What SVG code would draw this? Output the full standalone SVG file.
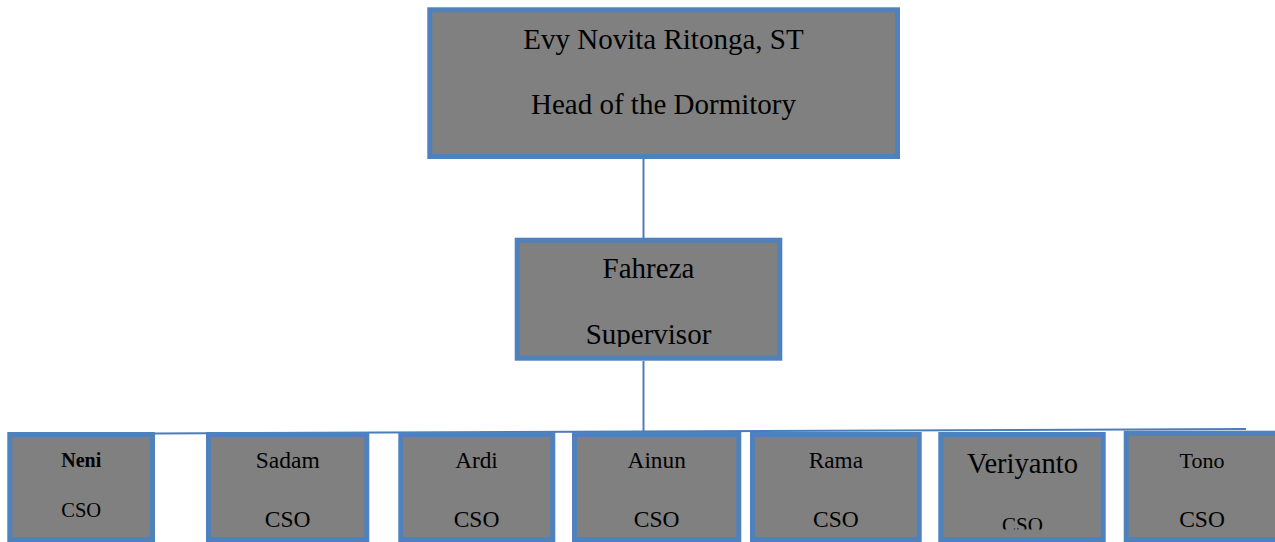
<svg xmlns="http://www.w3.org/2000/svg" width="1275" height="542" viewBox="0 0 1275 542">
<style>
.box{fill:#808080;stroke:#4f81bd;stroke-width:5}
.t{font-family:"Liberation Serif","Times New Roman",serif;fill:#000;text-anchor:middle}
.conn{stroke:#4a7ebb;stroke-width:2;fill:none}
</style>
<defs>
<clipPath id="clipSup"><rect x="515" y="238" width="268" height="109"/></clipPath>
<clipPath id="clipVer"><rect x="938" y="432" width="168" height="97.5"/></clipPath>
</defs>
<rect width="1275" height="542" fill="#fff"/>
<g id="connectors">
<line class="conn" x1="643.5" y1="159" x2="643.5" y2="238"/>
<line class="conn" x1="643.5" y1="361" x2="643.5" y2="432"/>
<line class="conn" x1="155" y1="433.5" x2="1246" y2="429"/>
</g>
<g id="head">
<rect class="box" x="429.8" y="9.8" width="467.7" height="146.7"/>
<text class="t" x="663.5" y="49" font-size="29">Evy Novita Ritonga, ST</text>
<text class="t" x="663.5" y="114" font-size="29">Head of the Dormitory</text>
</g>
<g id="supervisor">
<rect class="box" x="517.2" y="240.2" width="262.6" height="118"/>
<g clip-path="url(#clipSup)">
<text class="t" x="648.5" y="278.3" font-size="29">Fahreza</text>
<text class="t" x="648.5" y="344.3" font-size="29">Supervisor</text>
</g>
</g>
<g id="neni">
<rect class="box" x="9.8" y="434.5" width="142.7" height="105"/>
<text class="t" x="81.2" y="466.7" font-size="20" font-weight="bold">Neni</text>
<text class="t" x="81.2" y="516.7" font-size="20.5">CSO</text>
</g>
<g id="sadam">
<rect class="box" x="208.5" y="434.5" width="158.3" height="105"/>
<text class="t" x="287.7" y="468.3" font-size="23.5">Sadam</text>
<text class="t" x="287.7" y="527.3" font-size="23.5">CSO</text>
</g>
<g id="ardi">
<rect class="box" x="400.8" y="434.5" width="152" height="105"/>
<text class="t" x="476.5" y="468.3" font-size="23.3">Ardi</text>
<text class="t" x="476.5" y="527.3" font-size="23.5">CSO</text>
</g>
<g id="ainun">
<rect class="box" x="574.5" y="434.5" width="164.3" height="105"/>
<text class="t" x="656.7" y="468.3" font-size="23.3">Ainun</text>
<text class="t" x="656.7" y="527.3" font-size="23.5">CSO</text>
</g>
<g id="rama">
<rect class="box" x="752.5" y="434.5" width="166.7" height="105"/>
<text class="t" x="835.9" y="468.3" font-size="23.3">Rama</text>
<text class="t" x="835.9" y="527.3" font-size="23.5">CSO</text>
</g>
<g id="veriyanto">
<rect class="box" x="940.8" y="434.5" width="162.4" height="105"/>
<text class="t" x="1022.5" y="473.3" font-size="28.6">Veriyanto</text>
<g clip-path="url(#clipVer)">
<text class="t" x="1022.5" y="531.5" font-size="21">CSO</text>
</g>
</g>
<g id="tono">
<rect class="box" x="1126.2" y="433.2" width="152" height="106.3"/>
<text class="t" x="1202" y="468.3" font-size="22">Tono</text>
<text class="t" x="1202" y="527.3" font-size="23.5">CSO</text>
</g>
</svg>
